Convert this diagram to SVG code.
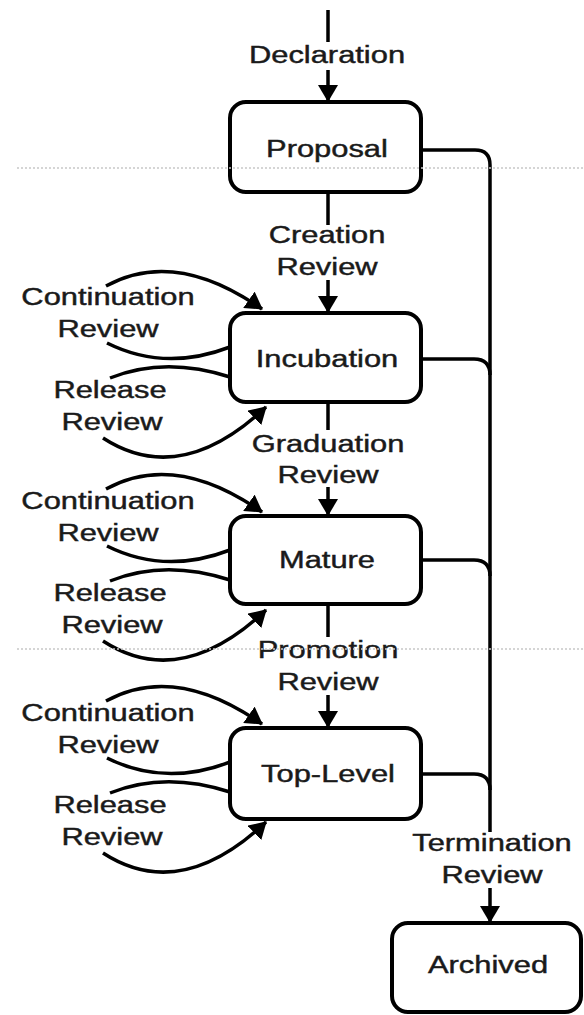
<svg xmlns="http://www.w3.org/2000/svg" width="584" height="1015" viewBox="0 0 584 1015">
<style>
.box{fill:none;stroke:#000;stroke-width:4}
.ln{fill:none;stroke:#000;stroke-width:3.5}
.t{font-family:"Liberation Sans",Arial,sans-serif;font-size:24.5px;fill:#1a1a1a;stroke:#1a1a1a;stroke-width:0.45;text-anchor:middle}
.dot{stroke:#c8c8c8;stroke-width:1.5;stroke-dasharray:2 2;fill:none}
</style>
<defs>
<marker id="ah" markerUnits="userSpaceOnUse" markerWidth="18" markerHeight="20" refX="16" refY="10" orient="auto">
<path d="M0,0 L17,10 L0,20 z" fill="#000"/>
</marker>
<g id="loops">
<path class="ln" d="M106,286 Q175,248 262,309" marker-end="url(#ah)"/>
<path class="ln" d="M107,343 Q165,372 230,347"/>
<path class="ln" d="M230,377 Q165,356 110,378"/>
<path class="ln" d="M103,438 Q180,488 266,407" marker-end="url(#ah)"/>
</g>
</defs>
<rect width="584" height="1015" fill="#fff"/>
<g id="connectors">
<line class="ln" x1="328" y1="10" x2="328" y2="42"/>
<line class="ln" x1="328" y1="70" x2="328" y2="101" marker-end="url(#ah)"/>
<line class="ln" x1="328" y1="193" x2="328" y2="225"/>
<line class="ln" x1="328" y1="280" x2="328" y2="312" marker-end="url(#ah)"/>
<line class="ln" x1="328" y1="404" x2="328" y2="430"/>
<line class="ln" x1="328" y1="487" x2="328" y2="515" marker-end="url(#ah)"/>
<line class="ln" x1="328" y1="605" x2="328" y2="637"/>
<line class="ln" x1="328" y1="695" x2="328" y2="727" marker-end="url(#ah)"/>
<path class="ln" d="M421,150 H475 Q490,150 490,165 V832"/>
<path class="ln" d="M421,359 H474 Q490,359 490,375"/>
<path class="ln" d="M421,560 H474 Q490,560 490,576"/>
<path class="ln" d="M421,774 H474 Q490,774 490,790"/>
<line class="ln" x1="490" y1="888" x2="490" y2="922" marker-end="url(#ah)"/>
<use href="#loops"/>
<use href="#loops" transform="translate(0,203)"/>
<use href="#loops" transform="translate(0,415)"/>
</g>
<g id="edge-labels">
<text class="t" transform="translate(327,63) scale(1.26,1)">Declaration</text>
<text class="t" transform="translate(327,243) scale(1.26,1)">Creation</text>
<text class="t" transform="translate(327,275) scale(1.26,1)">Review</text>
<text class="t" transform="translate(328,452) scale(1.26,1)">Graduation</text>
<text class="t" transform="translate(328,483) scale(1.26,1)">Review</text>
<text class="t" transform="translate(328,658) scale(1.26,1)">Promotion</text>
<text class="t" transform="translate(328,690) scale(1.26,1)">Review</text>
<text class="t" transform="translate(492,851) scale(1.26,1)">Termination</text>
<text class="t" transform="translate(492,883) scale(1.26,1)">Review</text>
<text class="t" transform="translate(108,305) scale(1.26,1)">Continuation</text>
<text class="t" transform="translate(108,337) scale(1.26,1)">Review</text>
<text class="t" transform="translate(110,398) scale(1.26,1)">Release</text>
<text class="t" transform="translate(112,430) scale(1.26,1)">Review</text>
<text class="t" transform="translate(108,509) scale(1.26,1)">Continuation</text>
<text class="t" transform="translate(108,541) scale(1.26,1)">Review</text>
<text class="t" transform="translate(110,601) scale(1.26,1)">Release</text>
<text class="t" transform="translate(112,633) scale(1.26,1)">Review</text>
<text class="t" transform="translate(108,721) scale(1.26,1)">Continuation</text>
<text class="t" transform="translate(108,753) scale(1.26,1)">Review</text>
<text class="t" transform="translate(110,813) scale(1.26,1)">Release</text>
<text class="t" transform="translate(112,845) scale(1.26,1)">Review</text>
</g>
<g id="proposal">
<rect class="box" x="230" y="102" width="191" height="90" rx="16"/>
<text class="t" transform="translate(327,157) scale(1.26,1)">Proposal</text>
</g>
<g id="incubation">
<rect class="box" x="230" y="313" width="191" height="89" rx="16"/>
<text class="t" transform="translate(327,367) scale(1.26,1)">Incubation</text>
</g>
<g id="mature">
<rect class="box" x="230" y="516" width="191" height="88" rx="16"/>
<text class="t" transform="translate(327,568) scale(1.26,1)">Mature</text>
</g>
<g id="top-level">
<rect class="box" x="230" y="728" width="191" height="91" rx="16"/>
<text class="t" transform="translate(328,782) scale(1.26,1)">Top-Level</text>
</g>
<g id="archived">
<rect class="box" x="392" y="923" width="189" height="89" rx="16"/>
<text class="t" transform="translate(488,973) scale(1.26,1)">Archived</text>
</g>
<g id="separators">
<line class="dot" x1="17" y1="168" x2="584" y2="168"/>
<line class="dot" x1="17" y1="649" x2="584" y2="649"/>
</g>
</svg>
